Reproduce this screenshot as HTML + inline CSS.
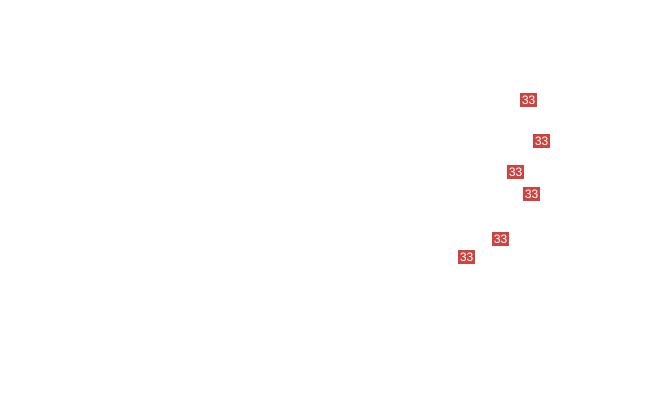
<!DOCTYPE html>
<html><head><meta charset="utf-8"><style>
html,body{margin:0;padding:0;background:#fff;width:650px;height:415px;overflow:hidden;position:relative}
.b{position:absolute;width:17px;height:14px;background:#cc4440;color:#fff;font:12px/14px "Liberation Sans",sans-serif;text-align:center}
</style></head><body>
<div class="b" style="left:520px;top:93px">33</div>
<div class="b" style="left:533px;top:134px">33</div>
<div class="b" style="left:507px;top:165px">33</div>
<div class="b" style="left:523px;top:187px">33</div>
<div class="b" style="left:492px;top:232px">33</div>
<div class="b" style="left:458px;top:250px">33</div>
</body></html>
